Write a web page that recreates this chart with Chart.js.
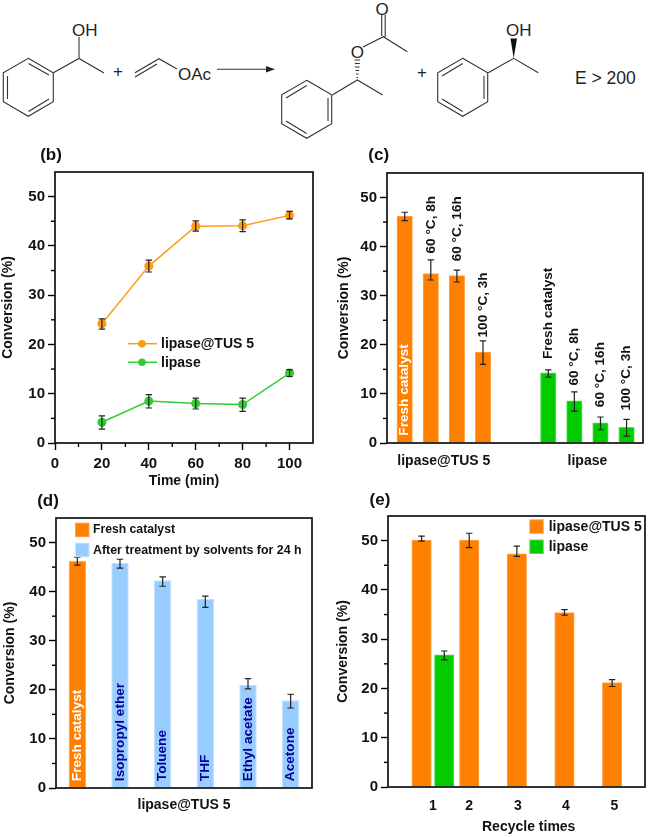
<!DOCTYPE html>
<html>
<head>
<meta charset="utf-8">
<title>Lipase conversion</title>
<script src="https://cdn.jsdelivr.net/npm/chart.js"></script>
<style>
  html, body { margin: 0; padding: 0; background: #fff; }
  #page { position: relative; width: 648px; height: 837px; overflow: hidden; }
  canvas, svg { position: absolute; display: block; }
  svg text { font-family: "Liberation Sans", Arial, sans-serif; fill: #222; }
  svg .bond { fill: none; stroke: #333; stroke-width: 1.1; }
</style>
</head>
<body>
<div id="page">
  <!-- reaction scheme -->
  <svg width="648" height="140" viewBox="0 0 648 140" style="left:0;top:0">
    <defs>
      <path id="ring" d="M25 0 L50 14.5 L50 43.5 L25 58 L0 43.5 L0 14.5 Z"/>
    </defs>
    <g class="bond">
      <use href="#ring" x="3.3" y="58.3"/>
      <path d="M7.5 76 V99 M28.5 63.5 L49 75 M49 99 L28.5 111.5"/>
      <path d="M53.3 72.7 L79 58.5 L104 73 M79 58.5 V37"/>
      <path d="M135 72.7 L159 58.7 L177 69 M135 77 L157 64"/>
      <path d="M217 69.3 H268"/>

      <use href="#ring" x="281.7" y="80.3"/>
      <path d="M328 98 V121 M286 98 L306.7 85.5 M286 121 L306.7 133.5"/>
      <path d="M332.3 95 L357.3 80 L382.7 95"/>
      <path d="M363 47 L383.3 36.7 L407.3 51.7 M381.7 15 V36 M385.2 15 V37"/>

      <use href="#ring" x="437.7" y="58.3"/>
      <path d="M484 76 V99 M442 76 L462.7 63.5 M442 99 L462.7 111.5"/>
      <path d="M488.3 72.7 L513.7 58.3 L538.3 72.7"/>
    </g>
    <path d="M266 66 L275 69.3 L266 72.6 Z" fill="#222"/>
    <path d="M513.7 58.3 L510.5 38.5 L517 38.5 Z" fill="#111"/>
    <path d="M354.5 60 H360 M354.8 63.5 H359.8 M355 67 H359.6 M355.5 70.5 H359.1 M356 74 H358.6 M356.5 77.5 H358.1" stroke="#333" stroke-width="1.1"/>
    <text x="72" y="36" font-size="17">OH</text>
    <text x="178" y="80" font-size="17">OAc</text>
    <text x="118" y="77" font-size="17" text-anchor="middle">+</text>
    <text x="357.3" y="58" font-size="17" text-anchor="middle">O</text>
    <text x="382" y="15" font-size="17" text-anchor="middle">O</text>
    <text x="422" y="78" font-size="17" text-anchor="middle">+</text>
    <text x="506" y="36" font-size="17">OH</text>
    <text x="575" y="84" font-size="17.5">E &gt; 200</text>
  </svg>

  <canvas id="chartB" width="324" height="350" style="left:0;top:140px"></canvas>
  <canvas id="chartC" width="324" height="350" style="left:324px;top:140px"></canvas>
  <canvas id="chartD" width="324" height="347" style="left:0;top:490px"></canvas>
  <canvas id="chartE" width="324" height="347" style="left:324px;top:490px"></canvas>
</div>

<script>
///////////////////////////
// DATA
///////////////////////////

// (b) conversion against time
const bTimes = [20, 40, 60, 80, 100];
const bTus = [24.2, 35.9, 44.0, 44.1, 46.2];
const bTusHigh = [25.2, 37.1, 45.1, 45.3, 47.0];
const bTusLow = [23.1, 34.7, 43.0, 42.9, 45.5];
const bLipase = [4.2, 8.5, 8.0, 7.8, 14.2];
const bLipaseHigh = [5.5, 9.8, 9.1, 9.1, 14.9];
const bLipaseLow = [2.8, 7.1, 6.9, 6.4, 13.5];
const bTicksX = [0, 20, 40, 60, 80, 100];

// (c) thermal treatment
const cTusSlots = [1, 2, 3, 4];
const cLipaseSlots = [6.5, 7.5, 8.5, 9.5];
const cGroupSlots = [2.5, 8];
const cGroupNames = ["lipase@TUS 5", "lipase"];
const cTreatments = ["Fresh catalyst", "60 °C, 8h", "60 °C, 16h", "100 °C, 3h"];
const cTus = [46.2, 34.5, 34.1, 18.5];
const cTusHigh = [47.0, 37.3, 35.2, 20.8];
const cTusLow = [45.3, 33.2, 32.8, 16.0];
const cTusLabelAt = [1.5, 38.6, 37.0, 21.5];
const cLipase = [14.3, 8.6, 4.1, 3.2];
const cLipaseHigh = [14.9, 10.4, 5.3, 4.8];
const cLipaseLow = [13.4, 6.5, 2.7, 1.4];
const cLipaseLabelAt = [17.1, 11.7, 7.3, 6.6];

// (d) solvent treatment
const dSolvents = ["Fresh catalyst", "Isopropyl ether", "Toluene", "THF", "Ethyl acetate", "Acetone"];
const dValues = [46.3, 45.9, 42.3, 38.5, 21.0, 17.9];
const dHigh = [47.0, 46.6, 43.0, 39.1, 22.3, 19.1];
const dLow = [45.4, 44.8, 41.1, 36.8, 20.2, 16.3];

// (e) recycling
const eTusRuns = [1, 2, 3, 4, 5];
const eTus = [50.1, 50.1, 47.3, 35.4, 21.2];
const eTusHigh = [50.9, 51.5, 48.9, 36.0, 21.8];
const eTusLow = [49.9, 48.6, 46.8, 34.9, 20.4];
const eLipaseRuns = [1.476];
const eLipase = [26.8];
const eLipaseHigh = [27.6];
const eLipaseLow = [25.8];
const eTickSlots = [1.24, 2.0, 3.02, 4.03, 5.05];
const eTickNames = ["1", "2", "3", "4", "5"];

///////////////////////////
// STYLE
///////////////////////////

const FONT = '"Liberation Sans", Arial, sans-serif';
const ORANGE = "#ff8000";
const ORANGE_EDGE = "#ffa64d";
const GREEN = "#00cc00";
const GREEN_EDGE = "#5ade5a";
const BLUE = "#99ccff";
const BLUE_EDGE = "#c4e1ff";
const NAVY = "#000099";
const LINE_ORANGE = "#ff9a14";
const LINE_GREEN = "#33cc33";

Chart.defaults.font.family = FONT;
Chart.defaults.color = "#111";

///////////////////////////
// DECORATION PLUGIN
///////////////////////////

// frame, minor ticks, error bars, rotated labels and legends
const panelDecor = {
  id: "panelDecor",
  afterDatasetsDraw(chart, args, opts) {
    const { ctx, chartArea: area, scales: { x, y } } = chart;

    ctx.save();
    ctx.fillStyle = "#111";

    // error bars
    ctx.strokeStyle = "#222";
    ctx.lineWidth = 1.2;
    (opts.errors || []).forEach(e => {
      e.at.forEach((v, i) => {
        const px = x.getPixelForValue(v);
        const top = y.getPixelForValue(e.high[i]);
        const bot = y.getPixelForValue(e.low[i]);
        ctx.beginPath();
        ctx.moveTo(px, top);
        ctx.lineTo(px, bot);
        ctx.moveTo(px - 3.2, top);
        ctx.lineTo(px + 3.2, top);
        ctx.moveTo(px - 3.2, bot);
        ctx.lineTo(px + 3.2, bot);
        ctx.stroke();
      });
    });

    // rotated labels next to / inside bars
    (opts.barLabels || []).forEach(l => {
      l.at.forEach((v, i) => {
        ctx.save();
        ctx.translate(x.getPixelForValue(v), y.getPixelForValue(l.from[i]));
        ctx.rotate(-Math.PI / 2);
        ctx.font = `bold 13.6px ${FONT}`;
        ctx.textAlign = "left";
        ctx.textBaseline = "middle";
        ctx.fillStyle = l.colors[i];
        ctx.fillText(l.text[i], 0, 0);
        ctx.restore();
      });
    });

    // minor ticks
    ctx.strokeStyle = "#000";
    ctx.lineWidth = 1.4;
    for (let v = 5; v < 55; v += 10) {
      const py = y.getPixelForValue(v);
      ctx.beginPath();
      ctx.moveTo(area.left - 4, py);
      ctx.lineTo(area.left, py);
      ctx.stroke();
    }
    if (opts.minorX) {
      opts.minorX.forEach(v => {
        const px = x.getPixelForValue(v);
        ctx.beginPath();
        ctx.moveTo(px, area.bottom);
        ctx.lineTo(px, area.bottom + 4);
        ctx.stroke();
      });
    }

    // frame
    ctx.lineWidth = 1.7;
    ctx.strokeStyle = "#111";
    ctx.strokeRect(area.left, area.top, area.right - area.left, area.bottom - area.top);

    // everything below is placed in page pixels
    ctx.translate(-opts.left, -opts.top);

    (opts.swatches || []).forEach(s => {
      ctx.fillStyle = s.edge;
      ctx.fillRect(s.x, s.y, 14.5, 14.5);
      ctx.fillStyle = s.color;
      ctx.fillRect(s.x + 1, s.y + 1, 12.5, 12.5);
    });

    (opts.lineKeys || []).forEach(k => {
      ctx.strokeStyle = k.color;
      ctx.lineWidth = 1.5;
      ctx.beginPath();
      ctx.moveTo(k.x, k.y);
      ctx.lineTo(k.x + 29, k.y);
      ctx.stroke();
      ctx.fillStyle = k.color;
      ctx.beginPath();
      ctx.arc(k.x + 14, k.y, 3.8, 0, Math.PI * 2);
      ctx.fill();
    });

    ctx.fillStyle = "#111";
    ctx.textBaseline = "middle";
    (opts.notes || []).forEach(n => {
      ctx.font = `bold ${n.size}px ${FONT}`;
      ctx.textAlign = n.align || "left";
      ctx.fillText(n.text, n.x, n.y);
    });

    ctx.restore();
  }
};

///////////////////////////
// SHARED AXES
///////////////////////////

function yAxis(titleCenter, plotLeft) {
  const padLeft = titleCenter - 8.4;
  return {
    padLeft,
    scale: {
      min: 0,
      max: 55,
      border: { display: false },
      grid: { drawOnChartArea: false, tickLength: 7, tickWidth: 1.4, tickColor: "#000" },
      ticks: {
        stepSize: 10,
        includeBounds: false,
        padding: 3,
        color: "#111",
        font: { size: 15, weight: "bold" }
      },
      title: {
        display: true,
        text: "Conversion (%)",
        padding: 0,
        color: "#111",
        font: { size: 14, weight: "bold", lineHeight: 1.2 }
      },
      afterFit(scale) {
        scale.width = plotLeft - padLeft;
        scale.paddingTop = scale.paddingBottom = 0;
      }
    }
  };
}

function fixHeight(height) {
  return scale => {
    scale.height = height;
    scale.paddingLeft = scale.paddingRight = 0;
  };
}

function makeChart(id, type, datasets, labels, pos, yCfg, xScale, decor) {
  new Chart(document.getElementById(id), {
    type,
    data: { labels, datasets },
    options: {
      responsive: false,
      animation: false,
      layout: { padding: { left: yCfg.padLeft, top: pos.padTop, right: pos.padRight, bottom: 0 } },
      scales: { x: xScale, y: yCfg.scale },
      plugins: {
        legend: { display: false },
        tooltip: { enabled: false },
        panelDecor: Object.assign({ left: pos.left, top: pos.top }, decor)
      }
    },
    plugins: [panelDecor]
  });
}

const zip = (xs, ys) => xs.map((x, i) => ({ x, y: ys[i] }));

function barSet(xs, ys, color, edge, width) {
  return {
    data: zip(xs, ys),
    backgroundColor: color,
    borderColor: edge,
    borderWidth: 1,
    grouped: false,
    barPercentage: 1,
    categoryPercentage: 1,
    maxBarThickness: width
  };
}

///////////////////////////
// PANEL B
///////////////////////////

function lineSet(ys, color) {
  return {
    data: zip(bTimes, ys),
    borderColor: color,
    backgroundColor: color,
    borderWidth: 1.5,
    pointRadius: 3.8,
    tension: 0
  };
}

makeChart("chartB", "line",
  [lineSet(bTus, LINE_ORANGE), lineSet(bLipase, LINE_GREEN)],
  undefined,
  { left: 0, top: 140, padTop: 32, padRight: 11 },
  yAxis(8, 55),
  {
    type: "linear",
    min: 0,
    max: 110,
    offset: false,
    border: { display: false },
    grid: { drawOnChartArea: false, tickLength: 7, tickWidth: 1.4, tickColor: "#000" },
    afterBuildTicks(scale) { scale.ticks = bTicksX.map(value => ({ value })); },
    ticks: { padding: 5, color: "#111", maxRotation: 0, font: { size: 15, weight: "bold" } },
    title: {
      display: true,
      text: "Time (min)",
      padding: 0,
      color: "#111",
      font: { size: 14, weight: "bold", lineHeight: 1.2 }
    },
    afterFit: fixHeight(47)
  },
  {
    errors: [
      { at: bTimes, high: bTusHigh, low: bTusLow },
      { at: bTimes, high: bLipaseHigh, low: bLipaseLow }
    ],
    minorX: [10, 30, 50, 70, 90],
    lineKeys: [
      { x: 128, y: 343.7, color: LINE_ORANGE },
      { x: 128, y: 362.3, color: LINE_GREEN }
    ],
    notes: [
      { text: "(b)", x: 51, y: 155, size: 17, align: "center" },
      { text: "lipase@TUS 5", x: 161, y: 344, size: 14 },
      { text: "lipase", x: 161, y: 363, size: 14 }
    ]
  }
);

///////////////////////////
// PANEL C
///////////////////////////

makeChart("chartC", "bar",
  [
    barSet(cTusSlots, cTus, ORANGE, ORANGE_EDGE, 15.5),
    barSet(cLipaseSlots, cLipase, GREEN, GREEN_EDGE, 15.5)
  ],
  undefined,
  { left: 324, top: 140, padTop: 33, padRight: 5 },
  yAxis(20, 63),
  {
    type: "linear",
    min: 0.322,
    max: 10.13,
    offset: false,
    border: { display: false },
    grid: { display: false, drawTicks: false, offset: false },
    afterBuildTicks(scale) { scale.ticks = cGroupSlots.map(value => ({ value })); },
    ticks: {
      padding: 10,
      color: "#111",
      maxRotation: 0,
      autoSkip: false,
      font: { size: 14, weight: "bold" },
      callback: (v, i) => cGroupNames[i]
    },
    afterFit: fixHeight(47)
  },
  {
    errors: [
      { at: cTusSlots, high: cTusHigh, low: cTusLow },
      { at: cLipaseSlots, high: cLipaseHigh, low: cLipaseLow }
    ],
    barLabels: [
      { at: cTusSlots, from: cTusLabelAt, text: cTreatments, colors: ["#fff", "#111", "#111", "#111"] },
      { at: cLipaseSlots, from: cLipaseLabelAt, text: cTreatments, colors: ["#111", "#111", "#111", "#111"] }
    ],
    notes: [{ text: "(c)", x: 378.7, y: 155, size: 17, align: "center" }]
  }
);

///////////////////////////
// PANEL D
///////////////////////////

const dSlots = dSolvents.map((_, i) => i);

makeChart("chartD", "bar",
  [{
    data: dValues,
    backgroundColor: dSolvents.map((_, i) => (i === 0 ? ORANGE : BLUE)),
    borderColor: dSolvents.map((_, i) => (i === 0 ? ORANGE_EDGE : BLUE_EDGE)),
    borderWidth: 1,
    barPercentage: 0.41,
    categoryPercentage: 1
  }],
  dSolvents,
  { left: 0, top: 490, padTop: 28, padRight: 12 },
  yAxis(10.5, 56),
  {
    border: { display: false },
    grid: { display: false, drawTicks: false },
    ticks: { display: false },
    title: {
      display: true,
      text: "lipase@TUS 5",
      padding: { top: 0, bottom: 23.6 },
      color: "#111",
      font: { size: 14, weight: "bold", lineHeight: 1.2 }
    },
    afterFit: fixHeight(49)
  },
  {
    errors: [{ at: dSlots, high: dHigh, low: dLow }],
    barLabels: [{
      at: dSlots,
      from: dSolvents.map(() => 1.4),
      text: dSolvents,
      colors: dSolvents.map((_, i) => (i === 0 ? "#fff" : NAVY))
    }],
    swatches: [
      { x: 75, y: 522.7, color: ORANGE, edge: ORANGE_EDGE },
      { x: 75, y: 542.7, color: BLUE, edge: BLUE_EDGE }
    ],
    notes: [
      { text: "(d)", x: 48, y: 501, size: 17, align: "center" },
      { text: "Fresh catalyst", x: 93, y: 530, size: 12.2 },
      { text: "After treatment by solvents for 24 h", x: 93, y: 551, size: 12.4 }
    ]
  }
);

///////////////////////////
// PANEL E
///////////////////////////

makeChart("chartE", "bar",
  [
    barSet(eTusRuns, eTus, ORANGE, ORANGE_EDGE, 19.5),
    barSet(eLipaseRuns, eLipase, GREEN, GREEN_EDGE, 19.5)
  ],
  undefined,
  { left: 324, top: 490, padTop: 26, padRight: 3 },
  yAxis(19, 64),
  {
    type: "linear",
    min: 0.295,
    max: 5.69,
    offset: false,
    border: { display: false },
    grid: { display: false, drawTicks: false, offset: false },
    afterBuildTicks(scale) { scale.ticks = eTickSlots.map(value => ({ value })); },
    ticks: {
      padding: 11,
      color: "#111",
      maxRotation: 0,
      autoSkip: false,
      font: { size: 14, weight: "bold" },
      callback: (v, i) => eTickNames[i]
    },
    afterFit: fixHeight(50)
  },
  {
    errors: [
      { at: eTusRuns, high: eTusHigh, low: eTusLow },
      { at: eLipaseRuns, high: eLipaseHigh, low: eLipaseLow }
    ],
    swatches: [
      { x: 529.3, y: 519.3, color: ORANGE, edge: ORANGE_EDGE },
      { x: 529.3, y: 539.5, color: GREEN, edge: GREEN_EDGE }
    ],
    notes: [
      { text: "(e)", x: 380, y: 500, size: 17, align: "center" },
      { text: "lipase@TUS 5", x: 548.7, y: 527, size: 14 },
      { text: "lipase", x: 548.7, y: 547, size: 14 },
      { text: "Recycle times", x: 528.7, y: 827, size: 14, align: "center" }
    ]
  }
);
</script>
</body>
</html>
